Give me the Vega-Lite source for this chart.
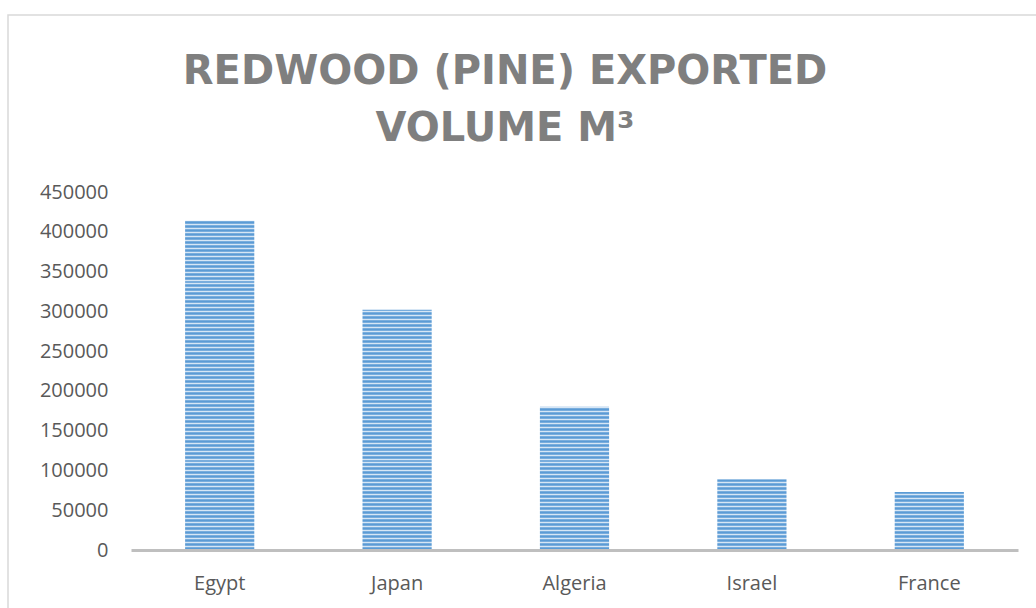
{
  "$schema": "https://vega.github.io/schema/vega-lite/v6.json",
  "autosize": {"type": "none"},
  "width": 1034,
  "height": 599,
  "padding": {"left": 8, "top": 15, "right": -6, "bottom": -6},
  "background": "white",
  "config": {
    "view": {"stroke": "#d9d9d9", "strokeWidth": 1.5},
    "font": "Open Sans"
  },
  "title": {
    "text": ["REDWOOD (PINE) EXPORTED", "VOLUME M³"],
    "font": "DejaVu Sans",
    "fontSize": 40,
    "fontWeight": "bold",
    "color": "#7f7f7f",
    "anchor": "middle",
    "frame": "group",
    "baseline": "top",
    "lineHeight": 57,
    "offset": 0,
    "dy": 134,
    "dx": -20
  },
  "data": {
    "values": [
      {"country": "Egypt", "volume": 414000},
      {"country": "Japan", "volume": 302000},
      {"country": "Algeria", "volume": 180000},
      {"country": "Israel", "volume": 89000},
      {"country": "France", "volume": 73000}
    ]
  },
  "mark": {"type": "bar", "color": "#5b9bd5"},
  "encoding": {
    "x": {
      "field": "country",
      "type": "nominal",
      "sort": null,
      "scale": {"range": [123, 1010], "paddingInner": 0.61, "paddingOuter": 0.305},
      "axis": {
        "orient": "bottom",
        "offset": -64,
        "title": null,
        "ticks": false,
        "grid": false,
        "domainColor": "#bfbfbf",
        "domainWidth": 3,
        "labelFont": "Open Sans",
        "labelFontSize": 20,
        "labelColor": "#595959",
        "labelPadding": 23,
        "labelAngle": 0,
        "zindex": 2
      }
    },
    "y": {
      "field": "volume",
      "type": "quantitative",
      "scale": {"domain": [0, 450000], "range": [535, 177], "nice": false},
      "axis": {
        "orient": "left",
        "offset": -123,
        "title": null,
        "ticks": false,
        "domain": false,
        "grid": true,
        "gridColor": "white",
        "gridWidth": 1.6,
        "gridOpacity": 0.75,
        "tickCount": 90,
        "format": "d",
        "labelExpr": "datum.value % 50000 === 0 ? datum.label : ''",
        "labelOverlap": false,
        "labelFont": "Open Sans",
        "labelFontSize": 20,
        "labelColor": "#595959",
        "labelPadding": 23,
        "zindex": 1
      }
    }
  }
}
